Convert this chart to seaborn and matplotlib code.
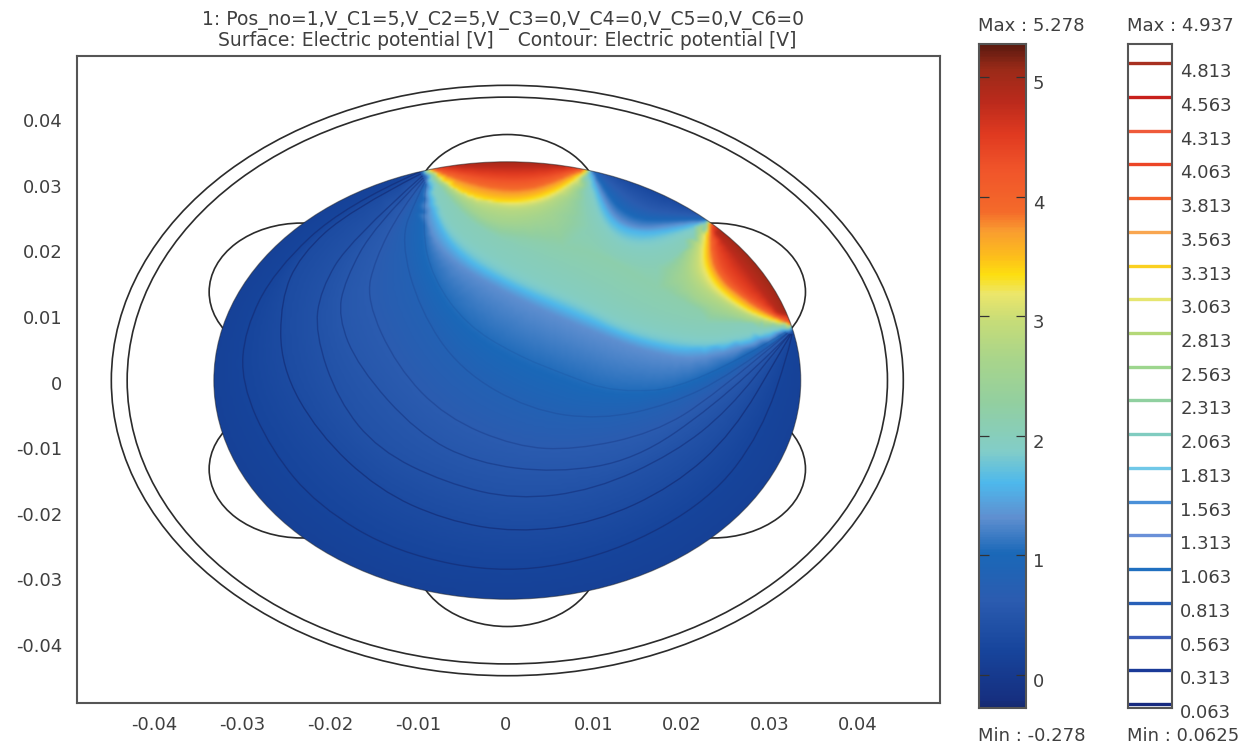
import numpy as np
import matplotlib
matplotlib.use("Agg")
import matplotlib.pyplot as plt
import matplotlib.tri as mtri
from matplotlib.colors import LinearSegmentedColormap
from matplotlib.patches import Circle, PathPatch
from matplotlib.path import Path
from matplotlib.transforms import ScaledTranslation
import seaborn as sns

sns.set_theme(style="white")
plt.rcParams["font.family"] = ["DejaVu Sans"]

# colour scale
scale_min, scale_max = -0.278, 5.278
cmap_values = [-0.278, -0.22, 0.2, 0.62, 1.01, 1.31, 1.6, 1.87, 2.27, 2.65, 2.96, 3.19, 3.35,
               3.49, 3.72, 3.88, 4.24, 4.53, 4.8, 5.08, 5.278]
cmap_colors = ["#162a70", "#162f80", "#17459c", "#2b5cb0", "#1a68b8", "#5f8fd0", "#4db8ec",
               "#82cdc8", "#92cfa0", "#a9d58a", "#c6dc78", "#ece66a", "#fddf10", "#fdc01a",
               "#f99c30", "#f46a2a", "#f0542a", "#e03a20", "#bb2a1c", "#9a2a18", "#5c1a10"]

title_1 = "1: Pos_no=1,V_C1=5,V_C2=5,V_C3=0,V_C4=0,V_C5=0,V_C6=0"
title_2 = "Surface: Electric potential [V]    Contour: Electric potential [V]"

x_ticks = [-0.04, -0.03, -0.02, -0.01, 0, 0.01, 0.02, 0.03, 0.04]
x_labels = ["-0.04", "-0.03", "-0.02", "-0.01", "0", "0.01", "0.02", "0.03", "0.04"]
y_ticks = [0.04, 0.03, 0.02, 0.01, 0, -0.01, -0.02, -0.03, -0.04]
y_labels = ["0.04", "0.03", "0.02", "0.01", "0", "-0.01", "-0.02", "-0.03", "-0.04"]

surface_ticks = [0, 1, 2, 3, 4, 5]
contour_levels = [4.813, 4.563, 4.313, 4.063, 3.813, 3.563, 3.313, 3.063, 2.813, 2.563,
                  2.313, 2.063, 1.813, 1.563, 1.313, 1.063, 0.813, 0.563, 0.313, 0.063]
contour_colors = ["#a83020", "#c8201c", "#ef5a3a", "#ec4526", "#f4602a", "#f9a650", "#fad020",
                  "#e6e670", "#b4d878", "#9dd68e", "#90d0a0", "#80ccc0", "#70c8e8", "#4a90d8",
                  "#6a90d8", "#2070c0", "#2860b8", "#3a5cb8", "#1a3a98", "#162a80"]

# geometry, metres
disk_x, disk_r = 0.00015, 0.03335
ring_radii = [0.0450, 0.0432]
electrode_dist, electrode_r = 0.027, 0.0105
electrode_angles = [90, 30, -30, -90, -150, 150]

# potential along the disk edge: from angle, to angle (degrees), volts
edge_spans = [(75, 105, 5.2), (47, 74, 0.12), (15, 46, 5.2), (-254, 14, 0.12)]

# iso lines, (x, y) in mm
low_1 = [(-9.8,31.8),(-18.3,26.8),(-26.3,16.8),(-29.7,7.7),(-30.1,-0.4),(-26.7,-10.6),(-21.4,-19.1),(-12.4,-26.3),(0.2,-29.6),(12.4,-26.3),(23.2,-18.2),(29.0,-8.0),(32.2,4.6),(32.5,7.1)]
low_2 = [(-9.7,31.5),(-17.7,26.0),(-23.4,19.1),(-25.6,12.3),(-25.6,2.1),(-21.4,-8.0),(-14.5,-16.7),(-6.9,-21.3),(1.1,-23.2),(10.1,-21.7),(19.1,-16.1),(25.8,-8.0),(31.3,4.6),(32.4,7.1)]
low_3 = [(-9.5,31.2),(-17.7,21.4),(-21.1,13.8),(-21.7,7.2),(-19.1,-3.0),(-14.5,-10.6),(-6.9,-15.6),(1.1,-18.2),(10.1,-16.7),(19.1,-11.1),(25.3,-4.5),(31.3,5.7),(32.3,7.1)]
low_4 = [(-9.4,30.9),(-14.9,23.7),(-18.3,15.3),(-19.1,9.7),(-16.8,2.1),(-10.1,-8.0),(-3.4,-12.6),(5.7,-14.1),(14.7,-12.1),(23.5,-4.0),(31.7,6.2),(32.2,7.1)]
low_5 = [(-9.3,30.6),(-12.0,26.0),(-14.9,18.4),(-15.9,12.3),(-12.4,2.1),(-6.9,-5.6),(1.1,-10.1),(7.8,-10.6),(16.8,-8.0),(23.5,-2.5),(32.0,7.2)]
low_6 = [(-9.2,30.3),(-10.3,27.5),(-12.0,21.4),(-9.8,10.7),(-5.2,1.6),(2.7,-4.5),(10.7,-6.0),(18.6,-3.7),(25.5,0.8),(31.9,7.2)]
low_7 = [(-9.1,30.0),(-9.6,23.0),(-8.3,15.5),(-4.5,8.5),(1.0,4.0),(6.5,1.0),(12.4,-1.9),(21.4,-1.0),(31.8,7.4)]
mid_1 = [(-9.0,30.1),(-9.4,24.5),(-6.7,18.4),(0.8,12.7),(8.4,8.2),(16.0,4.2),(23.5,2.7),(31.7,7.5)]
mid_2 = [(-8.9,30.3),(-8.6,26.0),(-5.8,19.1),(0.8,14.1),(8.4,9.7),(15.2,5.7),(22.6,3.9),(31.6,7.7)]
mid_3 = [(-8.8,30.6),(-7.8,24.9),(-4.9,19.9),(0.8,15.3),(8.4,11.2),(14.1,7.2),(21.7,5.1),(27.4,6.2),(31.5,7.8)]
mid_4 = [(-8.5,30.9),(-7.2,25.2),(-4.1,21.0),(1.6,16.8),(9.0,12.3),(14.1,8.9),(22.0,6.5),(27.7,7.4),(31.6,8.2)]
mid_5 = [(-8.3,31.2),(-5.8,26.0),(-1.8,22.2),(3.9,19.1),(10.7,14.6),(15.8,10.7),(22.0,8.5),(27.7,8.9),(31.8,8.3)]
ridge = [(-0.7,22.2),(6.1,20.7),(11.8,18.8),(16.4,14.6),(22.0,10.7)]

gap_1 = [(10.9,31.5),(13.5,28.3),(15.8,26.4),(18.1,25.7),(20.9,25.4)]
gap_2 = [(10.2,31.6),(12.0,27.5),(13.9,25.4),(16.1,24.5),(19.2,24.5),(22.3,24.6)]
gap_3 = [(9.9,31.6),(11.4,26.8),(13.0,24.2),(15.5,23.1),(18.6,23.7),(22.6,24.4)]
gap_4 = [(9.8,31.5),(10.9,26.8),(12.6,23.7),(15.2,22.6),(18.6,22.9),(22.7,24.2)]
gap_5 = [(9.5,31.8),(10.3,26.4),(12.2,22.5),(14.9,21.1),(18.3,21.9),(22.8,24.0)]
gap_6 = [(9.2,31.1),(9.8,26.4),(11.6,21.7),(14.7,19.6),(18.6,20.2),(22.7,23.6)]
gap_7 = [(9.0,30.9),(9.0,25.2),(10.7,19.9),(15.2,17.2),(19.2,18.1),(22.6,23.1)]

top_1 = [(-8.0,31.3),(-4.1,25.7),(0.1,23.7),(4.4,24.8),(7.8,28.3),(8.9,31.1)]
top_2 = [(-8.2,31.6),(-5.0,27.5),(0.1,25.7),(5.0,26.8),(8.4,30.1)]
top_3 = [(-8.5,31.9),(-5.7,28.6),(0.1,26.6),(3.9,27.2),(6.7,29.0),(9.1,31.8)]
top_4 = [(-8.8,32.2),(-6.0,29.3),(-3.0,27.8),(0.1,27.2),(3.5,27.8),(6.5,29.5),(9.2,32.1)]
top_5 = [(-8.6,32.4),(-5.5,30.4),(0.1,28.7),(4.7,29.5),(9.0,32.4)]
top_6 = [(-8.4,32.5),(-5.2,31.5),(0.1,30.5),(4.7,31.0),(8.75,32.5)]
top_7 = [(-5.2,32.8),(0.1,32.6),(5.0,32.8)]

side_1 = [(22.0,23.1),(19.8,17.6),(20.9,13.0),(24.9,10.4),(29.4,8.5),(31.9,8.5)]
side_2 = [(22.5,23.4),(20.9,18.4),(21.8,14.6),(25.2,11.4),(28.9,9.1),(32.0,8.3)]
side_3 = [(22.8,23.7),(21.8,19.1),(22.7,14.9),(25.5,11.8),(28.9,9.4),(32.2,8.3)]
side_4 = [(23.2,24.0),(22.4,19.4),(23.5,15.3),(25.8,12.3),(28.9,9.8),(32.3,8.5)]
side_5 = [(23.3,23.9),(23.1,19.1),(24.5,15.2),(26.8,12.7),(29.4,10.3),(32.4,8.5)]
side_6 = [(23.5,23.4),(24.0,18.4),(25.8,14.9),(28.5,11.8),(32.3,8.8)]
side_7 = [(23.9,22.6),(26.2,19.0),(28.9,14.2),(31.0,10.3)]

# volts for each iso line
samples = [(0.2, low_1), (0.32, low_2), (0.44, low_3), (0.54, low_4), (0.62, low_5), (0.8, low_6), (1.05, low_7),
           (1.31, mid_1), (1.56, mid_2), (1.81, mid_3), (1.95, mid_4), (2.05, mid_5), (2.15, ridge),
           (0.6, gap_1), (1.0, gap_2), (1.31, gap_3), (1.56, gap_4), (1.81, gap_5), (1.95, gap_6), (2.05, gap_7),
           (2.56, top_1), (2.8, top_2), (3.06, top_3), (3.35, top_4), (3.8, top_5), (4.3, top_6), (4.8, top_7),
           (2.56, side_1), (2.8, side_2), (3.06, side_3), (3.35, side_4), (3.8, side_5), (4.3, side_6), (4.8, side_7)]

# lines that show up as thin dark curves
dark_lines = [low_1, low_2, low_3, low_4, low_5, low_6, low_7]
dark_alpha = [0.8, 0.8, 0.6, 0.5, 0.35, 0.2, 0.12]

text_col = "#3f3f3f"
frame_col = "#555555"
text_size = 13


def smooth_path(pts):
    # quadratic curve through the midpoints, read points act as controls
    pts = np.asarray(pts) * 1e-3
    verts = [pts[0]]
    codes = [Path.MOVETO]
    for i in range(1, len(pts) - 1):
        end = pts[i + 1] if i == len(pts) - 2 else (pts[i] + pts[i + 1]) / 2
        verts += [pts[i], end]
        codes += [Path.CURVE3, Path.CURVE3]
    return Path(verts, codes)


def style_frame(axis):
    for s in axis.spines.values():
        s.set_visible(True)
        s.set_color(frame_col)
        s.set_linewidth(1.5)


cmap_pos = (np.array(cmap_values) - scale_min) / (scale_max - scale_min)
cmap = LinearSegmentedColormap.from_list("comsol", list(zip(cmap_pos, cmap_colors)), N=512)

# surface nodes: every iso line followed along its curve, plus the disk edge
nodes = {}
for volt, pts in samples:
    path = smooth_path(pts)
    for seg, _ in path.iter_bezier():
        for px, py in seg(np.linspace(0, 1, 7)):
            nodes[(round(px, 6), round(py, 6))] = volt
for a0, a1, volt in edge_spans:
    for a in np.deg2rad(np.arange(a0, a1 + 0.1, 2.0)):
        nodes[(round(disk_x + disk_r * 1.03 * np.cos(a), 6), round(disk_r * 1.03 * np.sin(a), 6))] = volt
xs = [k[0] for k in nodes]
ys = [k[1] for k in nodes]
vs = list(nodes.values())

fig = plt.figure(figsize=(12.45, 7.44), dpi=100)
W, H = 1245.0, 744.0
ax = fig.add_axes([77 / W, (H - 703) / H, 863 / W, 647 / H])

# triangulated nodes sampled on a fine grid, the image resampling takes out the facets
tri = mtri.Triangulation(xs, ys)
interp = mtri.LinearTriInterpolator(tri, vs)
gx, gy = np.meshgrid(np.linspace(-0.0352, 0.0352, 270), np.linspace(-0.0352, 0.0352, 200))
field = interp(gx, gy)
img = ax.imshow(field, extent=(-0.0352, 0.0352, -0.0352, 0.0352), origin="lower", aspect="auto",
                cmap=cmap, vmin=scale_min, vmax=scale_max, interpolation="bicubic", zorder=2)
clip = Circle((disk_x, 0), disk_r, transform=ax.transData, fc="none", ec="none")
ax.add_patch(clip)
img.set_clip_path(clip)

for pts, alpha in zip(dark_lines, dark_alpha):
    line = PathPatch(smooth_path(pts), fc="none", ec="#14307c", lw=1.0, alpha=alpha, zorder=3)
    ax.add_patch(line)
    line.set_clip_path(clip)

ax.add_patch(Circle((disk_x, 0), disk_r, fc="none", ec="#222222", lw=0.8, alpha=0.5, zorder=4))
for r in ring_radii:
    ax.add_patch(Circle((disk_x, 0), r, fc="none", ec="#2b2b2b", lw=1.2, zorder=1))
for a in electrode_angles:
    cx = disk_x + electrode_dist * np.cos(np.deg2rad(a))
    cy = electrode_dist * np.sin(np.deg2rad(a))
    ax.add_patch(Circle((cx, cy), electrode_r, fc="none", ec="#2b2b2b", lw=1.2, zorder=1))

ax.set_xlim(-0.04875, 0.04932)
ax.set_ylim(-0.04916, 0.04947)
ax.set_xticks(x_ticks, x_labels)
ax.set_yticks(y_ticks, y_labels)
ax.tick_params(length=0, labelsize=text_size, labelcolor=text_col, pad=10.5)
ax.tick_params(axis="x", pad=9)
for lab in ax.get_yticklabels():
    lab.set_transform(lab.get_transform() + ScaledTranslation(0, -2 / 100, fig.dpi_scale_trans))
style_frame(ax)

fig.text(503 / W, 1 - 21 / H, title_1, ha="center", va="center", fontsize=13.5, color=text_col)
fig.text(507 / W, 1 - 41 / H, title_2, ha="center", va="center", fontsize=13.5, color=text_col)

# surface legend
cax = fig.add_axes([979 / W, (H - 708) / H, 47 / W, 664 / H])
grad = np.linspace(scale_max, scale_min, 400).reshape(-1, 1)
sns.heatmap(grad, ax=cax, cmap=cmap, vmin=scale_min, vmax=scale_max, cbar=False,
            xticklabels=False, yticklabels=False, rasterized=True)
cax2 = cax.twinx()
cax2.set_ylim(scale_min, scale_max)
cax2.set_yticks(surface_ticks)
cax2.tick_params(axis="y", left=True, right=True, direction="in", length=7, width=0.9,
                 color="#333333", labelright=False, labelleft=False)
style_frame(cax2)
for t in surface_ticks:
    cax2.annotate(str(t), xy=(1, t), xycoords=("axes fraction", "data"), xytext=(5, -5),
                  textcoords="offset points", ha="left", va="center", fontsize=text_size, color=text_col)

# contour legend
lax = fig.add_axes([1128 / W, (H - 708) / H, 44 / W, 664 / H])
lax.set_ylim(0.033, 4.955)
lax.set_xlim(0, 1)
lax.set_xticks([])
lax.set_yticks([])
for lev, col in zip(contour_levels, contour_colors):
    lax.plot([0, 1], [lev, lev], color=col, lw=2.4, solid_capstyle="butt")
    lax.annotate(f"{lev:.3f}", xy=(1, lev), xycoords=("axes fraction", "data"), xytext=(6, -6.5),
                 textcoords="offset points", ha="left", va="center", fontsize=text_size, color=text_col,
                 annotation_clip=False)
style_frame(lax)

fig.text(978 / W, 1 - 26 / H, "Max : 5.278", ha="left", va="center", fontsize=text_size, color=text_col)
fig.text(1127 / W, 1 - 26 / H, "Max : 4.937", ha="left", va="center", fontsize=text_size, color=text_col)
fig.text(978 / W, 1 - 736 / H, "Min : -0.278", ha="left", va="center", fontsize=text_size, color=text_col)
fig.text(1127 / W, 1 - 736 / H, "Min : 0.0625", ha="left", va="center", fontsize=text_size, color=text_col)

fig.savefig("out.png", dpi=100)
